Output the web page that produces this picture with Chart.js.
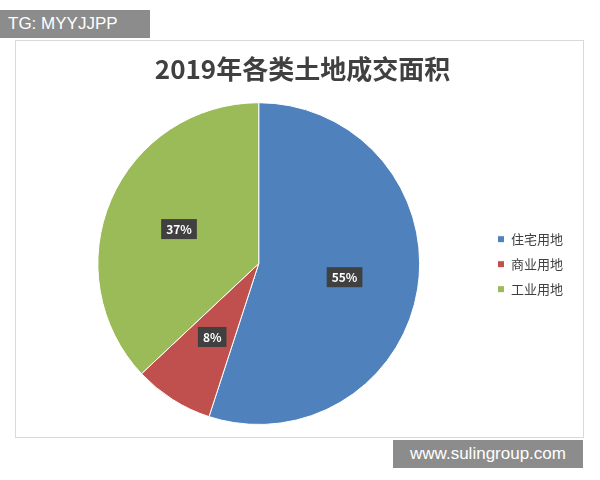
<!DOCTYPE html>
<html><head><meta charset="utf-8">
<script src="https://cdn.jsdelivr.net/npm/chart.js@4"></script>
<style>
body{margin:0;width:600px;height:480px;background:#fff;position:relative;font-family:'Noto Sans CJK SC',sans-serif;overflow:hidden}
#box{position:absolute;left:15px;top:40px;width:567px;height:396px;border:1px solid #d9d9d9}
#wrap{position:absolute;left:0;top:0;width:567px;height:396px}
.wm{position:absolute;background:#8c8c8c;color:#fff;font-family:'Liberation Sans',Arial,sans-serif;font-size:17px;line-height:28px;padding:0 8px}
</style></head><body>
<div id="box"><div id="wrap"><canvas id="c"></canvas></div></div>
<div class="wm" style="left:0;top:10px;width:134px">TG: MYYJJPP</div>
<div class="wm" style="left:393px;top:440px;width:174px;text-align:center">www.sulingroup.com</div>
<script>
// ─── data ────────────────────────────────────────────
const categories = ["住宅用地", "商业用地", "工业用地"];
const shares     = [55, 8, 37];
const colors     = ["#4f81bd", "#c0504d", "#9bbb59"];

// dark label boxes on the slices
const sliceLabels = {
  id: "sliceLabels",
  afterDatasetsDraw(chart) {
    const { ctx } = chart;
    const meta = chart.getDatasetMeta(0);
    ctx.save();
    ctx.font = "bold 12px 'Noto Sans CJK SC', sans-serif";
    ctx.textAlign = "center"; ctx.textBaseline = "middle";
    meta.data.forEach((arc, i) => {
      const p = arc.tooltipPosition();
      const dx = p.x - arc.x, dy = p.y - arc.y;
      const x = arc.x + dx * 1.08, y = arc.y + dy * 1.08;
      const t = shares[i] + "%";
      const w = ctx.measureText(t).width + 10;
      ctx.fillStyle = "#404040";
      ctx.fillRect(x - w / 2, y - 10, w, 20);
      ctx.fillStyle = "#fff";
      ctx.fillText(t, x, y);
    });
    ctx.restore();
  }
};

new Chart(document.getElementById("c"), {
  type: "pie",
  data: {
    labels: categories,
    datasets: [{ data: shares, backgroundColor: colors, borderColor: "#fff", borderWidth: 1 }]
  },
  options: {
    responsive: true, maintainAspectRatio: false, animation: false,
    layout: { padding: { top: 0, bottom: 12, left: 16, right: 10 } },
    plugins: {
      title: { display: true, text: "2019年各类土地成交面积", color: "#404040",
               font: { family: "'Noto Sans CJK SC', sans-serif", size: 26, weight: "bold" },
               padding: { top: 13, bottom: 17 } },
      legend: { position: "right",
                title: { display: true, text: " ", padding: { top: 48, bottom: 0 } },
                labels: { color: "#404040", boxWidth: 7, boxHeight: 7, padding: 12,
                          font: { family: "'Noto Sans CJK SC', sans-serif", size: 13 } } },
      tooltip: { enabled: false }
    }
  },
  plugins: [sliceLabels]
});
</script></body></html>
